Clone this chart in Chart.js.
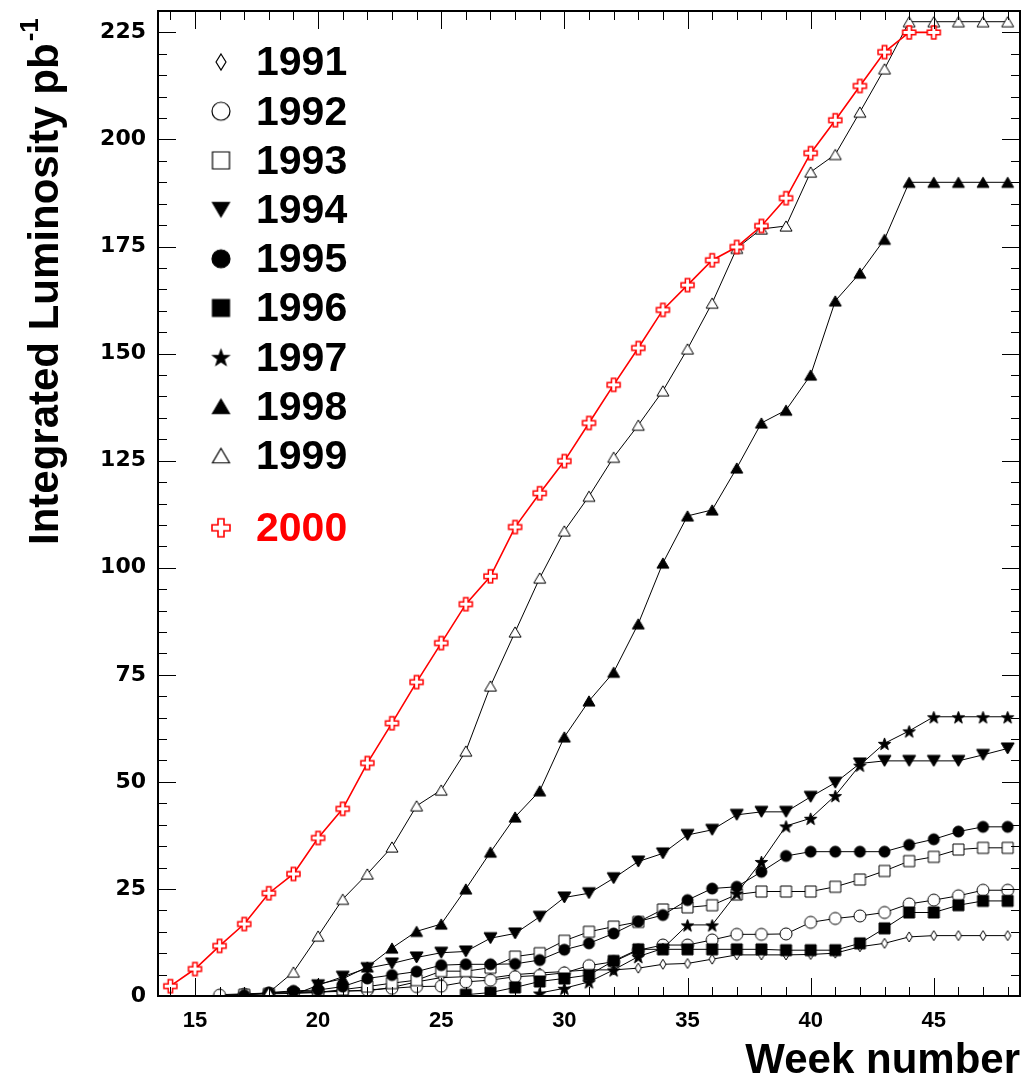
<!DOCTYPE html>
<html>
<head>
<meta charset="utf-8">
<title>Integrated Luminosity</title>
<script src="https://cdn.jsdelivr.net/npm/chart.js@4.4.0/dist/chart.umd.min.js"></script>
<style>
  html, body { margin: 0; padding: 0; background: #fff; }
  #wrap { width: 1022px; height: 1079px; }
</style>
</head>
<body>
<div id="wrap"><canvas id="lumiChart" width="1022" height="1079"></canvas></div>
<script>
// weeks 14..48, one value per week (null = no point that week)
const weeks = [14, 15, 16, 17, 18, 19, 20, 21, 22, 23, 24, 25, 26, 27, 28, 29, 30, 31,
               32, 33, 34, 35, 36, 37, 38, 39, 40, 41, 42, 43, 44, 45, 46, 47, 48];
const xTickLabels = [15, 20, 25, 30, 35, 40, 45];
const yTickLabels = [0, 25, 50, 75, 100, 125, 150, 175, 200, 225];
const years = ["1991", "1992", "1993", "1994", "1995", "1996", "1997", "1998", "1999", "2000"];

const lum1991 = [null, null, 0.3, 0.5, 0.7, 1.0, 1.0, 1.2, 1.2, 2.0, 3.3, 4.3, 4.5, 4.2, 5.0, 5.4, 5.7, 6.1,
                 6.1, 6.5, 7.4, 7.6, 8.6, 9.6, 9.6, 9.6, 9.7, 10.0, 11.5, 12.3, 13.8, 14.1, 14.1, 14.1, 14.1];
const lum1992 = [null, null, 0.2, 0.4, 0.6, 0.8, 0.9, 1.1, 1.4, 1.8, 2.2, 2.3, 3.3, 3.7, 4.5, 4.8, 5.4, 7.1,
                 8.0, 10.7, 11.9, 11.9, 13.1, 14.4, 14.4, 14.5, 17.2, 18.1, 18.7, 19.5, 21.5, 22.4, 23.4, 24.7, 24.7];
const lum1993 = [null, null, null, 0.3, 0.5, 0.6, 0.8, 1.5, 2.2, 3.0, 3.7, 5.8, 5.8, 6.6, 9.2, 10.0, 12.9, 15.0,
                 16.2, 17.3, 20.2, 20.7, 21.2, 23.7, 24.4, 24.4, 24.4, 25.5, 27.2, 29.2, 31.5, 32.5, 34.2, 34.6, 34.6];
const lum1994 = [null, null, null, null, null, 0.3, 2.5, 4.5, 6.5, 7.6, 9.0, 10.1, 10.4, 13.5, 14.6, 18.5, 23.0, 24.0,
                 27.5, 31.4, 33.3, 37.6, 38.8, 42.3, 43.0, 43.0, 46.5, 49.8, 54.3, 54.9, 54.9, 54.9, 54.9, 56.3, 57.8];
const lum1995 = [null, null, null, 0.2, 0.8, 1.2, 1.4, 2.2, 4.1, 4.9, 5.7, 7.2, 7.4, 7.4, 7.5, 8.4, 10.8, 12.3,
                 14.6, 17.4, 18.9, 22.4, 25.1, 25.5, 29.0, 32.7, 33.7, 33.7, 33.7, 33.7, 35.3, 36.6, 38.4, 39.5, 39.5];
const lum1996 = [null, null, null, null, null, null, null, null, null, null, null, null, 0.3, 0.8, 2.0, 3.4, 4.1, 4.9,
                 8.2, 10.9, 10.9, 10.9, 10.9, 10.9, 10.9, 10.7, 10.7, 10.7, 12.3, 15.8, 19.5, 19.5, 21.2, 22.2, 22.2];
const lum1997 = [null, null, null, null, null, null, null, null, null, null, null, null, null, null, null, 0.7, 1.8, 3.3,
                 6.1, 9.2, 11.1, 16.6, 16.6, 24.0, 31.4, 39.7, 41.5, 46.8, 53.9, 59.0, 61.9, 65.2, 65.2, 65.2, 65.2];
const lum1998 = [null, null, null, null, null, null, 2.8, 4.0, 6.8, 11.2, 15.1, 16.8, 25.0, 33.6, 41.8, 47.9, 60.5, 68.9,
                 75.6, 86.9, 101.1, 112.1, 113.5, 123.3, 133.8, 136.8, 145.0, 162.3, 168.8, 176.7, 190.0, 190.0, 190.0, 190.0, 190.0];
const lum1999 = [null, null, null, null, 0.8, 5.6, 14.0, 22.6, 28.5, 34.8, 44.4, 48.1, 57.2, 72.4, 85.0, 97.6, 108.6, 116.7,
                 125.8, 133.3, 141.3, 151.1, 161.8, 174.6, 179.1, 179.8, 192.4, 196.5, 206.4, 216.5, 227.5, 227.5, 227.5, 227.5, 227.5];
const lum2000 = [2.3, 6.3, 11.7, 16.8, 24.0, 28.5, 36.9, 43.7, 54.4, 63.7, 73.3, 82.4, 91.5, 98.0, 109.5, 117.4, 124.9, 133.8,
                 142.7, 151.3, 160.2, 166.0, 171.8, 174.9, 179.8, 186.3, 196.8, 204.5, 212.5, 220.4, 225.0, 225.0, null, null, null];

const series = [lum1991, lum1992, lum1993, lum1994, lum1995, lum1996, lum1997, lum1998, lum1999, lum2000];
const shapes = ["diamond", "circle", "square", "triDown", "circle", "square", "star", "triUp", "triUp", "cross"];
const filled = [false, false, false, true, true, true, true, true, false, false];

const RED = "#ff0000";
const FONT = '"Liberation Sans", Arial, Helvetica, sans-serif';

// marker drawn into a small canvas, used as pointStyle
function makeMarker(shape, size, isFilled, color, lw) {
    const pad = Math.ceil(lw) + 1;
    const c = document.createElement("canvas");
    c.width = c.height = Math.ceil(size) + pad * 2;
    const g = c.getContext("2d");
    const m = c.width / 2, r = size / 2;
    g.beginPath();
    if (shape === "circle") {
        g.arc(m, m, r, 0, Math.PI * 2);
    } else if (shape === "square") {
        g.rect(m - r, m - r, size, size);
    } else if (shape === "diamond") {
        g.moveTo(m, m - r); g.lineTo(m + r * 0.62, m); g.lineTo(m, m + r); g.lineTo(m - r * 0.62, m);
        g.closePath();
    } else if (shape === "triUp") {
        const h = size * 0.85;
        g.moveTo(m, m - h / 2); g.lineTo(m + r, m + h / 2); g.lineTo(m - r, m + h / 2);
        g.closePath();
    } else if (shape === "triDown") {
        const h = size * 0.85;
        g.moveTo(m, m + h / 2); g.lineTo(m + r, m - h / 2); g.lineTo(m - r, m - h / 2);
        g.closePath();
    } else if (shape === "star") {
        for (let k = 0; k < 10; k++) {
            const rr = k % 2 === 0 ? r : r * 0.4;
            const ang = -Math.PI / 2 + k * Math.PI / 5;
            const px = m + rr * Math.cos(ang), py = m + 1 + rr * Math.sin(ang);
            if (k === 0) g.moveTo(px, py); else g.lineTo(px, py);
        }
        g.closePath();
    } else if (shape === "cross") {
        const a = r / 3;
        g.moveTo(m - a, m - r); g.lineTo(m + a, m - r); g.lineTo(m + a, m - a); g.lineTo(m + r, m - a);
        g.lineTo(m + r, m + a); g.lineTo(m + a, m + a); g.lineTo(m + a, m + r); g.lineTo(m - a, m + r);
        g.lineTo(m - a, m + a); g.lineTo(m - r, m + a); g.lineTo(m - r, m - a); g.lineTo(m - a, m - a);
        g.closePath();
    }
    g.fillStyle = isFilled ? color : "#fff";
    g.fill();
    g.lineWidth = lw;
    g.strokeStyle = color;
    g.stroke();
    return c;
}

const plotSizes = { diamond: 10, circle: 12, square: 11, triDown: 13, triUp: 12, star: 13, cross: 13 };
const legendSizes = { diamond: 16, circle: 18, square: 17, triDown: 17, triUp: 17, star: 17, cross: 18 };

const datasets = years.map((yr, i) => {
    const color = yr === "2000" ? RED : "#000";
    const shape = shapes[i];
    const size = filled[i] && shape === "circle" ? 11 : plotSizes[shape];
    return {
        label: yr,
        data: weeks.map((w, j) => ({ x: w, y: series[i][j] })).filter(p => p.y !== null),
        borderColor: color,
        borderWidth: yr === "2000" ? 1.6 : 1,
        pointStyle: makeMarker(shape, size, filled[i], color, yr === "2000" ? 1.5 : 1),
        pointRadius: 6,
        tension: 0,
        fill: false,
        order: -i,
        legendMarker: makeMarker(shape, legendSizes[shape], filled[i], color, yr === "2000" ? 1.6 : 1.2)
    };
});

// ROOT-style frame with inward ticks on all four sides
const frameTicks = {
    id: "frameTicks",
    afterDraw(chart) {
        const { ctx, chartArea: a, scales: { x, y } } = chart;
        ctx.save();
        ctx.strokeStyle = "#000";
        ctx.lineWidth = 1;
        ctx.beginPath();
        for (let w = Math.ceil(x.min); w <= Math.floor(x.max); w++) {
            const px = Math.round(x.getPixelForValue(w)) + 0.5;
            const len = w % 5 === 0 ? 18 : 9;
            ctx.moveTo(px, a.bottom); ctx.lineTo(px, a.bottom - len);
            ctx.moveTo(px, a.top); ctx.lineTo(px, a.top + len);
        }
        for (let v = 0; v <= y.max; v += 5) {
            const py = Math.round(y.getPixelForValue(v)) + 0.5;
            const len = v % 25 === 0 ? 18 : 9;
            ctx.moveTo(a.left, py); ctx.lineTo(a.left + len, py);
            ctx.moveTo(a.right, py); ctx.lineTo(a.right - len, py);
        }
        ctx.stroke();
        ctx.lineWidth = 2;
        ctx.strokeRect(a.left, a.top, a.right - a.left, a.bottom - a.top);
        ctx.restore();
    }
};

// y title with superscript, and the legend inside the frame
const annotations = {
    id: "annotations",
    afterDraw(chart) {
        const { ctx, chartArea: a } = chart;
        ctx.save();
        ctx.fillStyle = "#000";
        ctx.translate(58, 545);
        ctx.rotate(-Math.PI / 2);
        ctx.font = "bold 42px " + FONT;
        ctx.textAlign = "left";
        ctx.textBaseline = "alphabetic";
        const main = "Integrated Luminosity pb";
        ctx.fillText(main, 0, 0);
        const wMain = ctx.measureText(main).width;
        ctx.font = "bold 26px " + FONT;
        ctx.fillText("-1", wMain + 2, -20);
        ctx.restore();

        ctx.save();
        ctx.font = "bold 41px " + FONT;
        ctx.textBaseline = "middle";
        ctx.textAlign = "left";
        chart.data.datasets.forEach((ds, i) => {
            const rowY = a.top + 51 + i * 49.2 + (ds.label === "2000" ? 23 : 0);
            const mk = ds.legendMarker;
            ctx.drawImage(mk, 221 - mk.width / 2, rowY - mk.height / 2);
            ctx.fillStyle = ds.label === "2000" ? RED : "#000";
            ctx.fillText(ds.label, 256, rowY + 2);
        });
        ctx.restore();
    }
};

new Chart(document.getElementById("lumiChart"), {
    type: "line",
    data: { datasets },
    options: {
        responsive: false,
        animation: false,
        devicePixelRatio: 1,
        layout: { autoPadding: false, padding: { left: 0, right: 2, top: 11, bottom: 0 } },
        plugins: { legend: { display: false }, tooltip: { enabled: false }, title: { display: false } },
        scales: {
            x: {
                type: "linear",
                min: 13.5,
                max: 48.5,
                afterBuildTicks: scale => { scale.ticks = xTickLabels.map(v => ({ value: v })); },
                afterFit: scale => { scale.height = 83; scale.paddingLeft = 0; scale.paddingRight = 0; },
                grid: { display: false, drawTicks: false },
                border: { display: false },
                ticks: {
                    color: "#000",
                    font: { family: FONT, size: 22, weight: "bold" },
                    padding: 12,
                    maxRotation: 0,
                    autoSkip: false
                },
                title: {
                    display: true,
                    text: "Week number",
                    align: "end",
                    color: "#000",
                    font: { family: FONT, size: 42, weight: "bold" },
                    padding: { top: 0, bottom: -8 }
                }
            },
            y: {
                type: "linear",
                min: 0,
                max: 230,
                afterBuildTicks: scale => { scale.ticks = yTickLabels.map(v => ({ value: v })); },
                afterFit: scale => { scale.width = 158; scale.paddingTop = 0; scale.paddingBottom = 0; },
                grid: { display: false, drawTicks: false },
                border: { display: false },
                ticks: {
                    color: "#000",
                    font: { family: '"DejaVu Sans", Verdana, sans-serif', size: 22, weight: "bold" },
                    padding: 12
                }
            }
        }
    },
    plugins: [frameTicks, annotations]
});
</script>
</body>
</html>
